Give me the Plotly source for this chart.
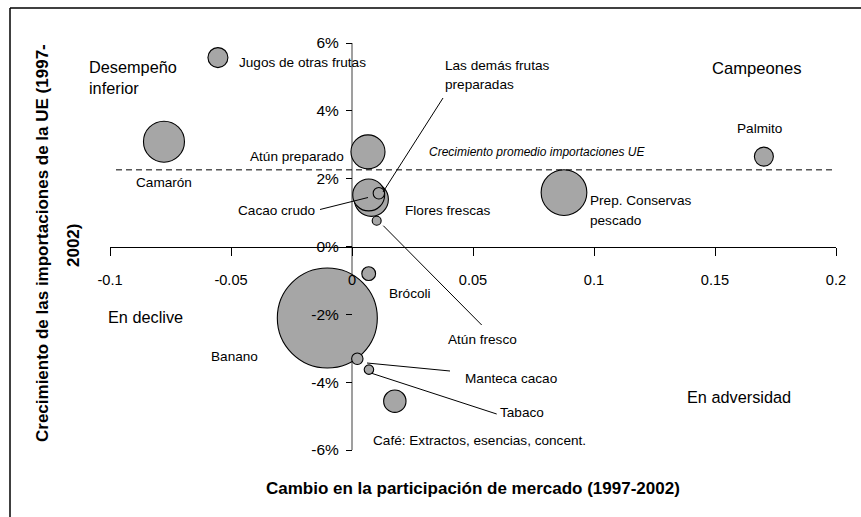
import plotly.graph_objects as go

# ---------------- data ----------------
productos = ["Banano", "Camarón", "Jugos de otras frutas", "Atún preparado",
             "Flores frescas", "Cacao crudo", "Las demás frutas preparadas",
             "Atún fresco", "Palmito", "Prep. Conservas pescado", "Brócoli",
             "Manteca cacao", "Tabaco", "Café: Extractos, esencias, concent."]
cambio_participacion = [-0.0102, -0.0777, -0.0554, 0.0066, 0.0080, 0.0069, 0.0111,
                        0.0102, 0.1702, 0.0876, 0.0069, 0.0022, 0.0070, 0.0177]
crecimiento_importaciones = [-0.0211, 0.0309, 0.0557, 0.0279, 0.0139, 0.0152, 0.0157,
                             0.0076, 0.0265, 0.0159, -0.0080, -0.0331, -0.0363, -0.0456]
valor_exportaciones = [1000, 168, 40, 116, 116, 102, 13, 8, 36, 209, 19, 13, 9, 50]
crecimiento_promedio_ue = 0.0226

x_ticks = [-0.1, -0.05, 0, 0.05, 0.1, 0.15, 0.2]
x_tick_text = ["-0.1", "-0.05", "0", "0.05", "0.1", "0.15", "0.2"]
y_ticks = [-0.06, -0.04, -0.02, 0, 0.02, 0.04, 0.06]
y_tick_text = ["-6%", "-4%", "-2%", "0%", "2%", "4%", "6%"]

# ---------------- layout helpers ----------------
W, H = 861, 517
ML, MR, MT, MB = 110, 25, 43, 67
XR = (-0.1, 0.2)
YR = (-0.06, 0.06)
PW = W - ML - MR
PH = H - MT - MB


def px2x(px):
    return XR[0] + (px - ML) / PW * (XR[1] - XR[0])


def py2y(py):
    return YR[1] - (py - MT) / PH * (YR[1] - YR[0])


def px2paper(px):
    return (px - ML) / PW


def py2paper(py):
    return 1 - (py - MT) / PH


FONT = "Liberation Sans, Arial, sans-serif"

fig = go.Figure()

fig.add_trace(go.Scatter(
    x=cambio_participacion, y=crecimiento_importaciones, mode="markers",
    text=productos, hoverinfo="text",
    marker=dict(size=valor_exportaciones, sizemode="area",
                sizeref=2.0 * max(valor_exportaciones) / 100 ** 2,
                color="#a6a6a6", opacity=1,
                line=dict(color="#000000", width=1.1)),
    showlegend=False,
))

shapes = []
# y-axis line (drawn below the bubbles)
shapes.append(dict(type="line", xref="x", yref="y", x0=0, x1=0, y0=YR[0], y1=YR[1],
                   line=dict(color="#7f7f7f", width=1.5), layer="below"))
# average EU import growth
shapes.append(dict(type="line", xref="x", yref="y", x0=px2x(116), x1=px2x(840),
                   y0=crecimiento_promedio_ue, y1=crecimiento_promedio_ue,
                   line=dict(color="#000000", width=1, dash="6px,4px"), layer="above"))
# leader lines
leaders = [((320, 209.5), (368, 197.5)),
           ((443, 98), (383, 192)),
           ((383.3, 225.7), (481.7, 325)),
           ((367, 363), (450, 371)),
           ((371.7, 373.3), (496.7, 414))]
for (a, b) in leaders:
    shapes.append(dict(type="line", xref="x", yref="y",
                       x0=px2x(a[0]), y0=py2y(a[1]), x1=px2x(b[0]), y1=py2y(b[1]),
                       line=dict(color="#000000", width=1), layer="above"))
# outer frame (left and top edges)
shapes.append(dict(type="line", xref="paper", yref="paper",
                   x0=px2paper(10), x1=px2paper(10), y0=py2paper(8), y1=py2paper(530),
                   line=dict(color="#000000", width=1.5)))
shapes.append(dict(type="line", xref="paper", yref="paper",
                   x0=px2paper(10), x1=px2paper(870), y0=py2paper(8), y1=py2paper(8),
                   line=dict(color="#000000", width=1.5)))

annotations = []


def label(text, px, py, xanchor="left", size=13.6, italic=False, bold=False,
          textangle=0):
    t = text
    if bold:
        t = "<b>" + t + "</b>"
    if italic:
        t = "<i>" + t + "</i>"
    annotations.append(dict(text=t, x=px2paper(px), y=py2paper(py), xref="paper", yref="paper",
                            xanchor=xanchor, yanchor="middle", showarrow=False,
                            textangle=textangle, align="left",
                            font=dict(family=FONT, size=size, color="#000000")))


# bubble labels
label("Jugos de otras frutas", 237, 63)
label("Camarón", 134, 183)
label("Atún preparado", 346, 156, xanchor="right")
label("Cacao crudo", 317, 210, xanchor="right")
label("Flores frescas", 403, 210)
label("Las demás frutas", 443, 65)
label("preparadas", 443, 85)
label("Prep. Conservas", 588, 200)
label("pescado", 588, 220)
label("Palmito", 759, 128, xanchor="center")
label("Brócoli", 387, 293)
label("Atún fresco", 446, 339)
label("Manteca cacao", 463, 378)
label("Tabaco", 498, 412)
label("Café: Extractos, esencias, concent.", 371, 440)
label("Banano", 209, 356)
label("Crecimiento promedio importaciones UE", 427, 152, italic=True, size=12)

# quadrant labels
label("Desempeño", 87, 66.7, size=16.3)
label("inferior", 87, 88.3, size=16.3)
label("Campeones", 710, 68, size=16.6)
label("En declive", 106, 317, size=16.3)
label("En adversidad", 685, 397, size=16.3)

# axis titles
label("Cambio en la participación de mercado (1997-2002)", 472.5, 488,
      xanchor="center", size=17, bold=True)
label("Crecimiento de las importaciones de la UE (1997-", 42, 243,
      xanchor="center", size=17, bold=True, textangle=-90)
label("2002)", 73, 246, xanchor="center", size=17, bold=True, textangle=-90)

fig.update_layout(
    width=W, height=H,
    margin=dict(l=ML, r=MR, t=MT, b=MB, pad=0),
    paper_bgcolor="#ffffff", plot_bgcolor="#ffffff",
    shapes=shapes, annotations=annotations,
    hovermode="closest",
    xaxis=dict(range=list(XR), domain=[0, 1], anchor="free", position=0.5,
               showgrid=False, zeroline=False, showline=True,
               linecolor="#000000", linewidth=1,
               ticks="outside", ticklen=8, tickcolor="#000000", tickwidth=1,
               tickvals=x_ticks, ticktext=x_tick_text, ticklabelstandoff=12,
               tickfont=dict(family=FONT, size=14.6, color="#000000"),
               layer="above traces", fixedrange=True),
    yaxis=dict(range=list(YR), domain=[0, 1], anchor="free", position=1 / 3,
               showgrid=False, zeroline=False, showline=False,
               ticks="outside", ticklen=6, tickcolor="#000000", tickwidth=1,
               tickvals=y_ticks, ticktext=y_tick_text, ticklabelstandoff=4,
               tickfont=dict(family=FONT, size=15.5, color="#000000"),
               layer="above traces", fixedrange=True),
)

fig.write_html("out.html", config={"displayModeBar": False},
               post_script="document.body.style.margin='0';")
